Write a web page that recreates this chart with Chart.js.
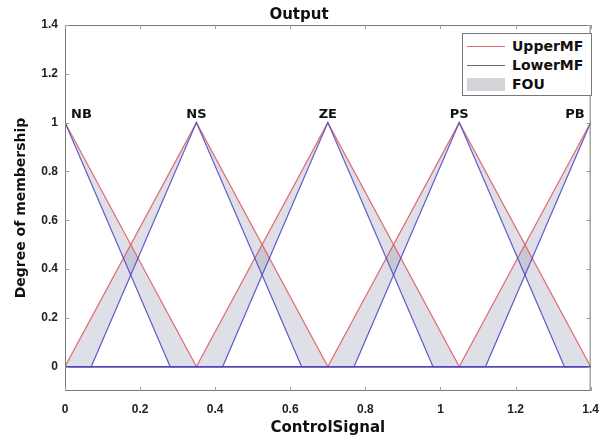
<!DOCTYPE html>
<html>
<head>
<meta charset="utf-8">
<script src="https://cdn.jsdelivr.net/npm/chart.js@4/dist/chart.umd.min.js"></script>
<style>
  html, body { margin: 0; padding: 0; background: #fff; }
  #wrap { position: relative; width: 610px; height: 442px; }
  #legend {
    position: absolute; left: 462px; top: 33px; width: 130px; height: 63px;
    box-sizing: border-box; border: 1px solid #777; background: #fff;
    font: bold 14px "DejaVu Sans", sans-serif; color: #111;
  }
  #legend .row { position: absolute; left: 0; height: 20px; line-height: 20px; }
  #legend .sample { position: absolute; left: 4px; width: 38px; }
  #legend .label { position: absolute; left: 49px; white-space: nowrap; }
</style>
</head>
<body>
<div id="wrap">
  <canvas id="mf" width="610" height="442"></canvas>
  <div id="legend">
    <div class="row" style="top:2px"><div class="sample" style="top:10px;border-top:1px solid rgb(225,110,110)"></div><div class="label">UpperMF</div></div>
    <div class="row" style="top:21px"><div class="sample" style="top:10px;border-top:1px solid #666"></div><div class="label">LowerMF</div></div>
    <div class="row" style="top:40px"><div class="sample" style="top:4px;height:13px;background:#d4d4d8"></div><div class="label">FOU</div></div>
  </div>
</div>
<script>
// interval type-2 triangular MFs of the output
const mfNames = ["NB", "NS", "ZE", "PS", "PB"];
const peaks = [0, 0.35, 0.7, 1.05, 1.4];
const upperLeft = [0, 0, 0.35, 0.7, 1.05];
const upperRight = [0.35, 0.7, 1.05, 1.4, 1.4];
const lowerLeft = [0, 0.07, 0.42, 0.77, 1.12];
const lowerRight = [0.28, 0.63, 0.98, 1.33, 1.4];
const xRange = [0, 1.4];
const yRange = [-0.1, 1.4];
const xTicks = [0, 0.2, 0.4, 0.6, 0.8, 1, 1.2, 1.4];
const yTicks = [0, 0.2, 0.4, 0.6, 0.8, 1, 1.2, 1.4];

function triangle(left, peak, right) {
  const pts = [];
  if (left > xRange[0]) pts.push({ x: xRange[0], y: 0 });
  if (left < peak) pts.push({ x: left, y: 0 });
  pts.push({ x: peak, y: 1 });
  if (right > peak) pts.push({ x: right, y: 0 });
  if (right < xRange[1]) pts.push({ x: xRange[1], y: 0 });
  return pts;
}

const datasets = [];
mfNames.forEach((name, i) => {
  datasets.push({
    label: name + " upper",
    data: triangle(upperLeft[i], peaks[i], upperRight[i]),
    borderColor: "rgba(222,90,90,0.85)",
    borderWidth: 1.2,
    backgroundColor: "rgba(120,120,155,0.24)",
    fill: 2 * i + 1,
    pointRadius: 0,
    tension: 0,
    order: 1,
  });
  datasets.push({
    label: name + " lower",
    data: triangle(lowerLeft[i], peaks[i], lowerRight[i]),
    borderColor: "rgba(70,70,200,0.85)",
    borderWidth: 1.2,
    fill: false,
    pointRadius: 0,
    tension: 0,
    order: 0,
  });
});

const tickFont = { family: "'Liberation Sans', Arial, sans-serif", weight: "bold", size: 12 };
const titleFont = { family: "'DejaVu Sans', sans-serif", weight: "bold", size: 15 };

const framePlugin = {
  id: "frame",
  afterDatasetsDraw(chart) {
    const { ctx, chartArea: a, scales } = chart;
    ctx.save();
    ctx.strokeStyle = "#777";
    ctx.lineWidth = 1;
    ctx.strokeRect(a.left + 0.5, a.top + 0.5, a.right - a.left - 1, a.bottom - a.top - 1);
    ctx.strokeStyle = "#999";
    ctx.beginPath();
    xTicks.forEach((v) => {
      const px = Math.round(scales.x.getPixelForValue(v)) + 0.5;
      ctx.moveTo(px, a.bottom); ctx.lineTo(px, a.bottom - 4);
      ctx.moveTo(px, a.top); ctx.lineTo(px, a.top + 4);
    });
    yTicks.forEach((v) => {
      const py = Math.round(scales.y.getPixelForValue(v)) + 0.5;
      ctx.moveTo(a.left, py); ctx.lineTo(a.left + 4, py);
      ctx.moveTo(a.right, py); ctx.lineTo(a.right - 4, py);
    });
    ctx.stroke();

    // MF names above the peaks, kept inside the axes
    ctx.font = "bold 13px 'DejaVu Sans', sans-serif";
    ctx.fillStyle = "#111";
    ctx.textAlign = "center";
    ctx.textBaseline = "alphabetic";
    mfNames.forEach((name, i) => {
      const w = ctx.measureText(name).width;
      let px = scales.x.getPixelForValue(peaks[i]);
      px = Math.min(Math.max(px, a.left + 6 + w / 2), a.right - 6 - w / 2);
      const py = scales.y.getPixelForValue(1) - 5;
      ctx.fillText(name, px, py);
    });
    ctx.restore();
  },
};

new Chart(document.getElementById("mf"), {
  type: "line",
  data: { datasets: datasets },
  options: {
    responsive: false,
    devicePixelRatio: 1,
    animation: false,
    layout: { padding: { top: 0, right: 12, bottom: 0, left: 0 } },
    plugins: {
      legend: { display: false },
      tooltip: { enabled: false },
      title: {
        display: true,
        text: "Output",
        color: "#111",
        font: titleFont,
        padding: { top: 6, bottom: 1 },
      },
    },
    scales: {
      x: {
        type: "linear",
        min: xRange[0],
        max: xRange[1],
        afterBuildTicks: (s) => { s.ticks = xTicks.map((v) => ({ value: v })); },
        afterFit: (s) => { s.height = 51; },
        grid: { display: false, drawTicks: false },
        border: { display: false },
        ticks: {
          color: "#222",
          font: tickFont,
          padding: 11,
          maxRotation: 0,
          callback: (v) => String(+v.toFixed(2)),
        },
        title: {
          display: true,
          text: "ControlSignal",
          color: "#111",
          font: titleFont,
          padding: { top: 0, bottom: 5 },
        },
      },
      y: {
        type: "linear",
        min: yRange[0],
        max: yRange[1],
        afterBuildTicks: (s) => { s.ticks = yTicks.map((v) => ({ value: v })); },
        afterFit: (s) => { s.width = 65; },
        grid: { display: false, drawTicks: false },
        border: { display: false },
        ticks: {
          color: "#222",
          font: tickFont,
          padding: 7,
          callback: (v) => String(+v.toFixed(2)),
        },
        title: {
          display: true,
          text: "Degree of membership",
          color: "#111",
          font: { family: "'DejaVu Sans', sans-serif", weight: "bold", size: 14 },
          padding: { top: 13, bottom: 0 },
        },
      },
    },
  },
  plugins: [framePlugin],
});
</script>
</body>
</html>
